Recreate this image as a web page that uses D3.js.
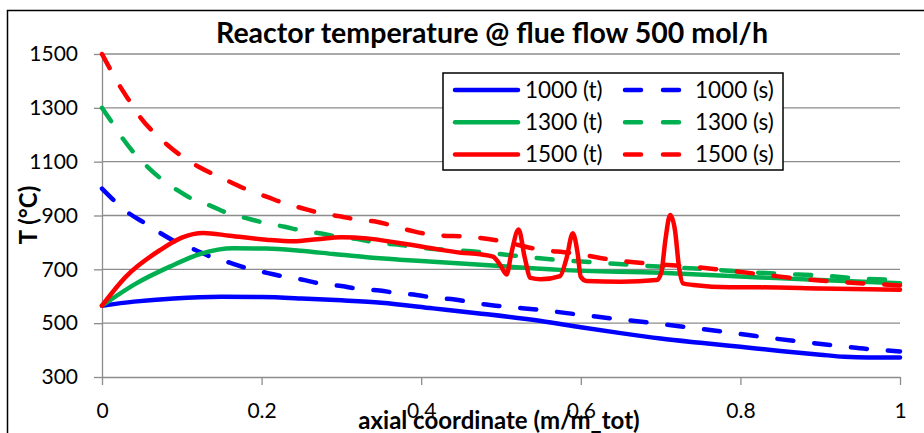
<!DOCTYPE html>
<html>
<head>
<meta charset="utf-8">
<script src="https://cdn.jsdelivr.net/npm/d3@7"></script>
<style>
    body { margin: 0; background: #fff; }
    svg { display: block; font-family: Lato, "Open Sans", sans-serif; }
</style>
</head>
<body>
<svg id="chart"></svg>
<script>
// axial coordinate (m/m_tot) vs reactor temperature (degC)
const solid1000 = [[0,565],[0.04,580],[0.09,592],[0.15,598],[0.2,597],[0.25,592],[0.3,585],[0.35,576],
    [0.415,555],[0.47,537],[0.55,508],[0.6,485],[0.65,463],[0.7,443],[0.75,427],[0.8,412],[0.85,397],
    [0.9,383],[0.93,375],[0.96,372],[1,372]];
const dash1000 = [[0,1000],[0.033,910],[0.054,871],[0.073,835],[0.094,800],[0.117,772],[0.137,746],
    [0.161,724],[0.183,703],[0.208,686],[0.229,672],[0.254,660],[0.275,646],[0.3,638],[0.322,627],
    [0.348,621],[0.37,612],[0.394,605],[0.417,594],[0.442,588],[0.465,576],[0.5,563],[0.55,549],
    [0.6,531],[0.65,514],[0.7,497],[0.75,479],[0.8,460],[0.84,444],[0.88,430],[0.925,415],[0.96,404],[1,395]];
const solid1300 = [[0,565],[0.043,648],[0.085,710],[0.123,757],[0.165,778],[0.206,777],[0.248,769],
    [0.29,757],[0.332,745],[0.373,736],[0.415,728],[0.47,718],[0.511,710],[0.574,698],[0.7,687],
    [0.825,670],[0.9,660],[1,648]];
const dash1300 = [[0,1300],[0.012,1248],[0.025,1190],[0.04,1133],[0.057,1081],[0.075,1034],[0.094,995],
    [0.114,960],[0.137,935],[0.158,908],[0.181,890],[0.206,871],[0.229,858],[0.252,843],[0.275,833],
    [0.298,820],[0.322,812],[0.345,798],[0.37,792],[0.392,783],[0.474,764],[0.57,735],[0.61,727],
    [0.66,717],[0.76,700],[0.85,683],[0.9,677],[0.95,666],[1,660]];
const solid1500 = [[0,565],[0.03,673],[0.073,772],[0.1,818],[0.127,835],[0.16,825],[0.206,810],
    [0.24,804],[0.27,812],[0.3,819],[0.332,815],[0.37,799],[0.4,785],[0.45,762],[0.474,756],[0.49,747],
    [0.499,716],[0.507,681],[0.513,760],[0.522,848],[0.53,740],[0.537,668],[0.55,663],[0.574,675],
    [0.582,740],[0.59,834],[0.596,760],[0.6,672],[0.607,657],[0.65,654],[0.695,660],[0.701,690],
    [0.706,809],[0.712,902],[0.718,846],[0.723,710],[0.728,648],[0.741,642],[0.787,633],[0.825,633],
    [0.9,629],[1,624]];
const dash1500 = [[0,1500],[0.011,1440],[0.023,1378],[0.035,1323],[0.049,1261],[0.064,1211],[0.082,1162],
    [0.101,1118],[0.121,1081],[0.142,1050],[0.164,1020],[0.185,992],[0.206,970],[0.229,945],[0.252,926],
    [0.275,908],[0.298,897],[0.323,883],[0.344,877],[0.369,858],[0.392,840],[0.415,828],[0.465,820],
    [0.5,805],[0.545,775],[0.59,760],[0.64,735],[0.69,720],[0.73,712],[0.78,697],[0.83,680],[0.87,666],
    [0.92,654],[0.97,645],[1,640]];

const seriesNames = ['1000 (t)', '1000 (s)', '1300 (t)', '1300 (s)', '1500 (t)', '1500 (s)'];
const seriesData = [solid1000, dash1000, solid1300, dash1300, solid1500, dash1500];
const xTicks = [0, 0.2, 0.4, 0.6, 0.8, 1];
const yTicks = [300, 500, 700, 900, 1100, 1300, 1500];

const colors = { '1000': '#0000ff', '1300': '#00b050', '1500': '#ff0000' };

const width = 924, height = 433;
const margin = { top: 54, right: 24, bottom: 56, left: 102 };
const innerW = width - margin.left - margin.right;
const innerH = height - margin.top - margin.bottom;

const svg = d3.select('#chart')
    .attr('width', width)
    .attr('height', height);

// chart area border (runs off the right and bottom edge)
svg.append('rect')
    .attr('x', 7.5).attr('y', 10.5)
    .attr('width', 940).attr('height', 440)
    .attr('fill', 'none')
    .attr('stroke', '#000')
    .attr('stroke-width', 1.5);

const xScale = d3.scaleLinear().domain([0, 1]).range([0, innerW]);
const yScale = d3.scaleLinear().domain([300, 1500]).range([innerH, 0]);

const chart = svg.append('g')
    .attr('transform', `translate(${margin.left},${margin.top})`);

// gridlines
chart.append('g')
    .selectAll('line')
    .data(yTicks.slice(1))
    .join('line')
    .attr('x1', 0).attr('x2', innerW)
    .attr('y1', d => yScale(d)).attr('y2', d => yScale(d))
    .attr('stroke', '#8c8c8c')
    .attr('stroke-width', 1.3);

const xAxis = d3.axisBottom(xScale)
    .tickValues(xTicks)
    .tickSize(8)
    .tickSizeOuter(0)
    .tickPadding(18)
    .tickFormat(d => d);

const yAxis = d3.axisLeft(yScale)
    .tickValues(yTicks)
    .tickSize(8)
    .tickSizeOuter(0)
    .tickPadding(16)
    .tickFormat(d3.format('d'));

const xAxisG = chart.append('g')
    .attr('transform', `translate(0,${innerH})`)
    .call(xAxis);
const yAxisG = chart.append('g').call(yAxis);

[xAxisG, yAxisG].forEach(g => {
    g.selectAll('path, line').attr('stroke', '#8c8c8c').attr('stroke-width', 1.3);
    g.selectAll('text').attr('fill', '#000').style('font-size', '21px').style('font-family', 'Lato, sans-serif');
});

// series lines
const line = d3.line()
    .x(d => xScale(d[0]))
    .y(d => yScale(d[1]))
    .curve(d3.curveMonotoneX);

const dashPattern = '16,21';

seriesData.forEach((data, i) => {
    const name = seriesNames[i];
    chart.append('path')
        .datum(data)
        .attr('d', line)
        .attr('fill', 'none')
        .attr('stroke', colors[name.slice(0, 4)])
        .attr('stroke-width', 4.5)
        .attr('stroke-linecap', 'round')
        .attr('stroke-linejoin', 'round')
        .attr('stroke-dasharray', name.includes('(s)') ? dashPattern : null);
});

// title and axis labels
svg.append('text')
    .attr('x', 492).attr('y', 43)
    .attr('text-anchor', 'middle')
    .style('font-size', '28.5px').style('font-weight', 'bold')
    .text('Reactor temperature @ flue flow 500 mol/h');

svg.append('text')
    .attr('transform', 'rotate(-90)')
    .attr('x', -215).attr('y', 37)
    .attr('text-anchor', 'middle')
    .style('font-size', '24px').style('font-weight', 'bold')
    .text('T (°C)');

svg.append('text')
    .attr('x', 499).attr('y', 429)
    .attr('text-anchor', 'middle')
    .style('font-size', '24px').style('font-weight', 'bold')
    .text('axial coordinate (m/m_tot)');

// legend
const legend = svg.append('g').attr('transform', 'translate(443,73)');
legend.append('rect')
    .attr('width', 340).attr('height', 97)
    .attr('fill', '#fff')
    .attr('stroke', '#000')
    .attr('stroke-width', 1.5);

const legendItems = legend.selectAll('g.item')
    .data(seriesNames)
    .join('g')
    .attr('class', 'item')
    .attr('transform', (d, i) => `translate(${i % 2 ? 179 : 9},${17 + Math.floor(i / 2) * 32.3})`);

legendItems.append('line')
    .attr('x1', 3).attr('x2', d => d.includes('(s)') ? 57 : 66)
    .attr('stroke', d => colors[d.slice(0, 4)])
    .attr('stroke-width', 4.5)
    .attr('stroke-linecap', 'round')
    .attr('stroke-dasharray', d => d.includes('(s)') ? '16,22' : null);

legendItems.append('text')
    .attr('x', 73)
    .attr('dy', '0.35em')
    .style('font-size', '22.5px')
    .text(d => d);
</script>
</body>
</html>
